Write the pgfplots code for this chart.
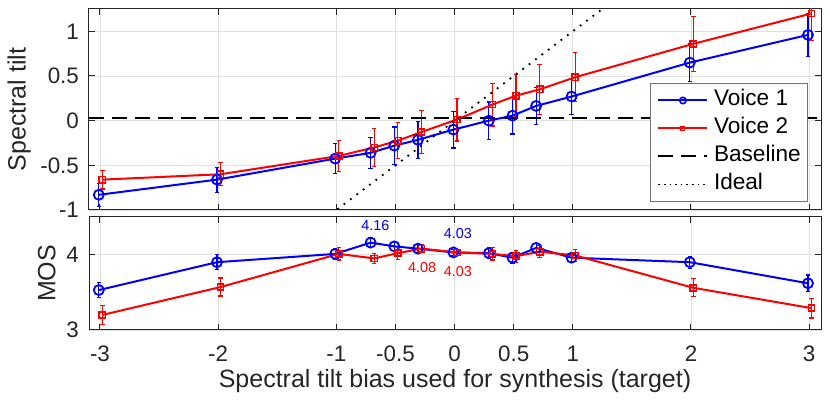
\documentclass[border=0pt]{standalone}
\usepackage{pgfplots}
\pgfplotsset{compat=1.18}
\usepackage{fontspec}
\setmainfont{Liberation Sans}
\definecolor{axgray}{gray}{0.15}
\newcommand\tickfont{\fontsize{11.2}{12}\selectfont}
\newcommand\labfont{\fontsize{12.5}{14}\selectfont}

\pgfplotstableread{
x y e
-3.01 -0.83 0.13
-2.01 -0.66 0.14
-1.01 -0.425 0.17
-0.71 -0.36 0.175
-0.51 -0.28 0.21
-0.31 -0.215 0.21
-0.01 -0.10 0.205
0.29 0.00 0.21
0.49 0.056 0.205
0.69 0.165 0.205
0.99 0.27 0.205
1.99 0.65 0.21
2.99 0.96 0.24
}\tiltA
\pgfplotstableread{
x y e
-2.98 -0.66 0.105
-1.98 -0.60 0.13
-0.98 -0.395 0.17
-0.68 -0.30 0.21
-0.48 -0.224 0.20
-0.28 -0.127 0.24
0.02 0.012 0.24
0.32 0.18 0.24
0.52 0.28 0.24
0.72 0.35 0.28
1.02 0.486 0.275
2.02 0.86 0.31
3.02 1.20 0.30
}\tiltB
\pgfplotstableread{
x y e
-3.01 3.53 0.10
-2.01 3.90 0.10
-1.01 4.01 0.07
-0.71 4.16 0.07
-0.51 4.11 0.06
-0.31 4.08 0.06
-0.01 4.03 0.04
0.29 4.02 0.07
0.49 3.96 0.07
0.69 4.09 0.06
0.99 3.96 0.06
1.99 3.90 0.08
2.99 3.62 0.11
}\mosA
\pgfplotstableread{
x y e
-2.98 3.20 0.13
-1.98 3.57 0.12
-0.98 4.01 0.08
-0.68 3.95 0.07
-0.48 4.02 0.08
-0.28 4.08 0.05
0.02 4.03 0.04
0.32 4.01 0.08
0.52 3.98 0.08
0.72 4.04 0.08
1.02 3.99 0.08
2.02 3.56 0.12
3.02 3.29 0.13
}\mosB

\pgfplotsset{
  mystyle/.style={
    scale only axis, width=366pt, xmin=-3.093, xmax=3.1,
    xtick={-3,-2,-1,-0.5,0,0.5,1,2,3},
    grid=major, major grid style={black!12, line width=0.4pt},
    axis line style={axgray, line width=0.5pt},
    tick style={axgray, line width=0.5pt},
    tick align=inside, major tick length=3pt,
    xtick pos=both, ytick pos=both,
    yticklabel style={font=\tickfont, text=axgray, xshift=-1.5pt},
    xticklabel style={font=\tickfont, text=axgray, yshift=-4.3pt},
  },
  bluestyle/.style={blue, line width=1pt, mark=o, mark size=2.5pt,
    mark options={solid, line width=0.9pt},
    error bars/.cd, y dir=both, y explicit,
    error bar style={line width=0.6pt, blue},
    error mark options={rotate=90, mark size=1.1pt, line width=0.6pt, blue}},
  redstyle/.style={red, line width=1pt, mark=square, mark size=1.55pt,
    mark options={solid, line width=0.8pt},
    error bars/.cd, y dir=both, y explicit,
    error bar style={line width=0.6pt, red},
    error mark options={rotate=90, mark size=1.1pt, line width=0.6pt, red}},
}

\begin{document}
\begin{tikzpicture}
\useasboundingbox (-44.5pt,-98pt) rectangle (370.5pt,105pt);

\begin{axis}[mystyle,
  at={(0,0)}, anchor=south west, height=100.5pt,
  ymin=-1, ymax=1.25,
  ytick={-1,-0.5,0,0.5,1}, yticklabels={-1,-0.5,0,0.5,1},
  xticklabels={},
  ylabel={Spectral tilt},
  every axis y label/.style={at={(axis description cs:-0.0954,0.5)}, rotate=90, anchor=center, font=\labfont, text=axgray},
  legend style={at={(axis description cs:1,0)}, anchor=south east,
    xshift=-6.5pt, yshift=4pt, draw=black!55, line width=0.5pt, fill=white,
    inner xsep=3.4pt, inner ysep=1.5pt,
    font=\fontsize{11.3}{13}\selectfont, text=black,
    nodes={inner xsep=0pt, inner ysep=1.5pt, text height=8pt, text depth=3pt},
    /tikz/every odd column/.append style={column sep=2.8pt}},
  legend cell align=left,
  legend image code/.code={\draw[mark repeat=2,mark phase=2,#1] plot coordinates {(0pt,0pt) (12.25pt,0pt) (24.5pt,0pt)};},
]
\addplot[forget plot, bluestyle] table[x=x, y=y, y error=e] {\tiltA};
\addplot[forget plot, redstyle] table[x=x, y=y, y error=e] {\tiltB};
\addplot[forget plot, black, line width=1pt, dash pattern=on 7.5pt off 4pt] coordinates {(-3.093,0.035) (3.1,0.035)};
\addplot[forget plot, black, line width=0.9pt, dash pattern=on 0.9pt off 3.1pt] coordinates {(-1.1,-1.1) (1.3,1.3)};
\addlegendimage{blue, line width=1pt, mark=o, mark size=1.6pt, mark options={solid, line width=0.8pt}}
\addlegendentry{Voice 1}
\addlegendimage{red, line width=1pt, mark=square, mark size=0.9pt, mark options={solid, line width=0.7pt}}
\addlegendentry{Voice 2}
\addlegendimage{black, line width=1pt, dash pattern=on 7.5pt off 4pt}
\addlegendentry{Baseline}
\addlegendimage{black, line width=0.8pt, dash pattern=on 0.8pt off 2pt}
\addlegendentry{Ideal}
\end{axis}

\begin{axis}[mystyle,
  at={(0,-60pt)}, anchor=south west, height=56.5pt,
  ymin=3, ymax=4.5,
  ytick={3,4}, yticklabels={3,4},
  xticklabels={-3,-2,-1,-0.5,0,0.5,1,2,3},
  ylabel={MOS},
  every axis y label/.style={at={(axis description cs:-0.0578,0.5)}, rotate=90, anchor=center, font=\labfont, text=axgray},
  xlabel={Spectral tilt bias used for synthesis (target)},
  every axis x label/.style={at={(axis description cs:0.5,-0.456)}, anchor=center, font=\labfont, text=axgray},
]
\addplot[bluestyle] table[x=x, y=y, y error=e] {\mosA};
\addplot[redstyle] table[x=x, y=y, y error=e] {\mosB};
\node[blue, font=\fontsize{7.2}{8}\selectfont] at (axis cs:-0.67,4.387) {4.16};
\node[blue, font=\fontsize{7.2}{8}\selectfont] at (axis cs:0.027,4.28) {4.03};
\node[red, font=\fontsize{7.2}{8}\selectfont] at (axis cs:-0.275,3.835) {4.08};
\node[red, font=\fontsize{7.2}{8}\selectfont] at (axis cs:0.027,3.776) {4.03};
\end{axis}
\end{tikzpicture}
\end{document}
